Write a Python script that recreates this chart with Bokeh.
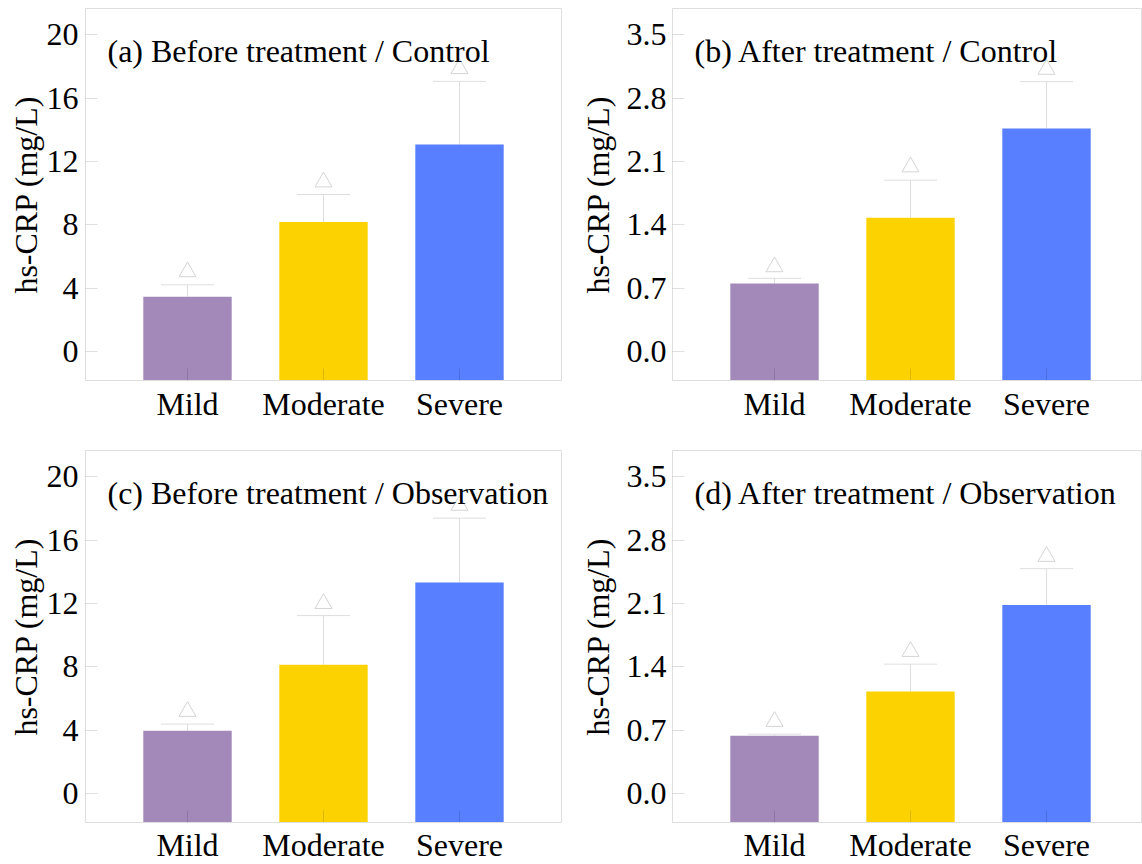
from bokeh.plotting import figure
from bokeh.layouts import column, row
from bokeh.models import Range1d, FixedTicker, Label, ColumnDataSource
from bokeh.embed import file_html
from bokeh.resources import INLINE

# ---------------- data ----------------
categories = ["Mild", "Moderate", "Severe"]
bar_colors = ["#A389BA", "#FCD300", "#577FFF"]

titles = ["(a) Before treatment / Control",
          "(b) After treatment / Control",
          "(c) Before treatment / Observation",
          "(d) After treatment / Observation"]

a_mean = [3.47, 8.19, 13.07]
a_sd = [0.75, 1.73, 3.99]
a_sig = [5.04, 10.71, 17.86]

b_mean = [0.754, 1.478, 2.464]
b_sd = [0.056, 0.416, 0.518]
b_sig = [0.937, 2.04, 3.118]

c_mean = [3.97, 8.13, 13.33]
c_sd = [0.42, 3.11, 4.06]
c_sig = [5.19, 12.0, 18.2]

d_mean = [0.64, 1.128, 2.085]
d_sd = [0.017, 0.302, 0.40]
d_sig = [0.797, 1.57, 2.62]

before_ticks = [0, 4, 8, 12, 16, 20]
before_labels = ["0", "4", "8", "12", "16", "20"]
after_ticks = [0, 0.7, 1.4, 2.1, 2.8, 3.5]
after_labels = ["0.0", "0.7", "1.4", "2.1", "2.8", "3.5"]

y_label = "hs-CRP (mg/L)"

# ---------------- style ----------------
FONT = "Liberation Serif"
FS = "32px"
LIGHT = "#dedede"
FRAME_H = 372


def make_panel(title, mean, sd, sig, yticks, ylabels, yrange,
               frame_w, xend, border_left, border_right, border_top,
               border_bottom, tick_standoff, label_standoff, x_standoff):
    xs = list(range(1, len(categories) + 1))
    y0 = yrange[0]
    p = figure(frame_width=frame_w, frame_height=FRAME_H,
               x_range=Range1d(0.25, xend), y_range=Range1d(*yrange),
               output_backend="svg", toolbar_location=None,
               min_border_left=border_left, min_border_right=border_right,
               min_border_top=border_top, min_border_bottom=border_bottom)
    p.background_fill_color = "white"
    p.border_fill_color = "white"
    p.outline_line_color = LIGHT
    p.outline_line_width = 1
    p.xgrid.visible = False
    p.ygrid.visible = False

    src = ColumnDataSource(dict(
        x=xs, top=mean, bottom=[y0] * len(xs), color=bar_colors,
        hi=[m + s for m, s in zip(mean, sd)], sig=sig,
        cl=[x - 0.195 for x in xs], cr=[x + 0.195 for x in xs]))

    p.segment(x0="x", y0="top", x1="x", y1="hi", source=src,
              line_color=LIGHT, line_width=1)
    p.segment(x0="cl", y0="hi", x1="cr", y1="hi", source=src,
              line_color=LIGHT, line_width=1)
    p.vbar(x="x", top="top", bottom="bottom", width=0.65, source=src,
           fill_color="color", line_color="color", line_width=0)
    p.scatter(x="x", y="sig", source=src, marker="triangle", size=17,
              fill_color=None, line_color="#d4d4d4", line_width=1)

    # axes
    p.xaxis.ticker = FixedTicker(ticks=xs)
    p.xaxis.major_label_overrides = {x: c for x, c in zip(xs, categories)}
    p.yaxis.ticker = FixedTicker(ticks=yticks)
    p.yaxis.major_label_overrides = {t: l for t, l in zip(yticks, ylabels)}
    for ax in (p.xaxis, p.yaxis):
        ax.axis_line_color = LIGHT
        ax.major_tick_in = 12
        ax.major_tick_out = 0
        ax.minor_tick_in = 0
        ax.minor_tick_out = 0
        ax.major_tick_line_color = "black"
        ax.major_tick_line_alpha = 0.13
        ax.major_label_text_font = FONT
        ax.major_label_text_font_size = FS
        ax.major_label_text_color = "black"
    p.yaxis.major_tick_line_alpha = 0.12
    p.yaxis.major_label_standoff = tick_standoff
    p.xaxis.major_label_standoff = x_standoff
    p.yaxis.axis_label = y_label
    p.yaxis.axis_label_text_font = FONT
    p.yaxis.axis_label_text_font_size = FS
    p.yaxis.axis_label_text_font_style = "normal"
    p.yaxis.axis_label_text_color = "black"
    p.yaxis.axis_label_standoff = label_standoff

    p.add_layout(Label(x=0.25, y=yrange[1], x_offset=22, y_offset=-42,
                       text=title, text_font=FONT, text_font_size=FS,
                       text_color="black", text_baseline="alphabetic",
                       text_align="left"))
    return p


range_before = (-1.82, 21.66)
range_after = (-0.3185, 3.79)

W_LEFT = 476
W_RIGHT = 470
XEND_LEFT = 3.75
XEND_RIGHT = 0.25 + 3.5 * W_RIGHT / W_LEFT

pa = make_panel(titles[0], a_mean, a_sd, a_sig, before_ticks, before_labels,
                range_before, W_LEFT, XEND_LEFT, 85, 14, 8, 70, 7, 0, 5)
pb = make_panel(titles[1], b_mean, b_sd, b_sig, after_ticks, after_labels,
                range_after, W_RIGHT, XEND_RIGHT, 97, 0, 8, 70, 6, 8, 5)
pc = make_panel(titles[2], c_mean, c_sd, c_sig, before_ticks, before_labels,
                range_before, W_LEFT, XEND_LEFT, 85, 14, 0, 42, 7, 0, 4)
pd_ = make_panel(titles[3], d_mean, d_sd, d_sig, after_ticks, after_labels,
                 range_after, W_RIGHT, XEND_RIGHT, 97, 0, 0, 42, 6, 8, 4)

layout = column(row(pa, pb), row(pc, pd_))

open("out.html", "w").write(file_html(layout, INLINE))
